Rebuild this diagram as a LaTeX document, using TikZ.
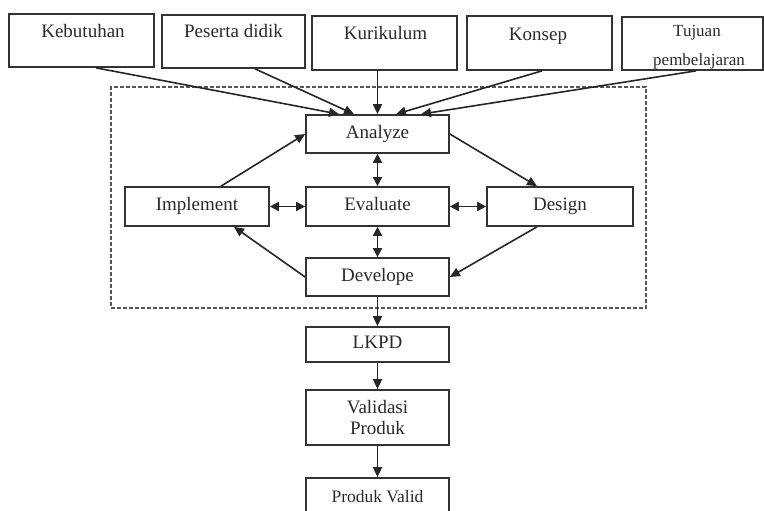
\documentclass[tikz,border=0pt]{standalone}
\usepackage{fontspec}
\setmainfont{Liberation Serif}
\usetikzlibrary{arrows.meta}
\definecolor{boxc}{HTML}{333333}
\definecolor{txtc}{HTML}{2A2A2A}
\definecolor{dashc}{HTML}{555555}
\begin{document}
\begin{tikzpicture}[x=1pt,y=-1pt,
  box/.style={draw=boxc, line width=1.7pt, fill=white, inner sep=0pt},
  lbl/.style={font=\fontsize{19}{22}\selectfont, text=txtc, inner sep=0pt, text height=12.5pt, text depth=4pt},
  slbl/.style={font=\fontsize{17}{20}\selectfont, text=txtc, inner sep=0pt},
  arr/.style={line width=1.6pt, draw=black!85, -{Triangle[length=10pt,width=9pt]}},
  darr/.style={line width=1.6pt, draw=black!85, {Triangle[length=9pt,width=9pt]}-{Triangle[length=9pt,width=9pt]}},
  dashbox/.style={draw=dashc, line width=2pt, dash pattern=on 4pt off 2pt, inner sep=0pt}
]
\useasboundingbox (0,0) rectangle (764,511);
\clip (0,0) rectangle (764,511);

% dashed frame
\node[dashbox, minimum width=535pt, minimum height=221pt] (frame) at (378.5,197.5) {};

% top boxes
\node[box, minimum width=145pt, minimum height=53pt] (keb) at (81.5,40.5) {};
\node[lbl] (tkeb) at (83,33) {Kebutuhan};
\node[box, minimum width=143pt, minimum height=53pt] (pes) at (233.5,41.5) {};
\node[lbl] (tpes) at (233.5,33) {Peserta didik};
\node[box, minimum width=145pt, minimum height=54pt] (kur) at (384.5,43) {};
\node[lbl] (tkur) at (385.5,35) {Kurikulum};
\node[box, minimum width=145pt, minimum height=54pt] (kon) at (539.5,43) {};
\node[lbl] (tkon) at (538,36) {Konsep};
\node[box, minimum width=141pt, minimum height=53pt] (tuj) at (692.5,43.5) {};
\node[slbl] (ttuj1) at (697,33) {Tujuan};
\node[slbl] (ttuj2) at (699,61) {pembelajaran};

% core boxes
\node[box, minimum width=143pt, minimum height=38pt] (ana) at (377.5,134) {};
\node[lbl] at (ana) {Analyze};
\node[box, minimum width=144pt, minimum height=39pt] (imp) at (197,206.5) {};
\node[lbl] at (imp) {Implement};
\node[box, minimum width=143pt, minimum height=39pt] (eva) at (377.5,206.5) {};
\node[lbl] at (eva) {Evaluate};
\node[box, minimum width=146pt, minimum height=39pt] (des) at (560,206.5) {};
\node[lbl] at (des) {Design};
\node[box, minimum width=143pt, minimum height=38pt] (dev) at (377.5,277) {};
\node[lbl] at (dev) {Develope};

% bottom boxes
\node[box, minimum width=143pt, minimum height=35pt] (lkpd) at (377.5,344.5) {};
\node[lbl] at (lkpd) {LKPD};
\node[box, minimum width=143pt, minimum height=55pt] (val) at (377.5,417.5) {};
\node[font=\fontsize{19}{21}\selectfont, text=txtc, inner sep=0pt, align=center] at (val) {Validasi\\Produk};
\node[box, minimum width=143pt, minimum height=50pt] (pv) at (377.5,503) {};
\node[font=\fontsize{17.5}{20}\selectfont, text=txtc, inner sep=0pt] at (377.5,497) {Produk Valid};

% inputs to Analyze
\draw[arr] ([xshift=14.5pt]keb.south) -- ([xshift=-38.5pt]ana.north);
\draw[arr] ([xshift=21.5pt]pes.south) -- ([xshift=-23.5pt]ana.north);
\draw[arr] (kur.south -| ana.north) -- (ana.north);
\draw[arr] ([xshift=2.5pt]kon.south) -- ([xshift=18.5pt]ana.north);
\draw[arr] ([xshift=3.5pt]tuj.south) -- ([xshift=43.5pt]ana.north);

% cycle
\draw[arr] ([xshift=24pt]imp.north) -- (ana.west);
\draw[arr] (ana.east) -- ([xshift=-23pt]des.north);
\draw[arr] ([xshift=-23pt]des.south) -- (dev.east);
\draw[arr] (dev.west) -- ([xshift=37pt]imp.south);

\draw[darr] (ana.south) -- (eva.north);
\draw[darr] (eva.south) -- (dev.north);
\draw[darr] (imp.east) -- (eva.west);
\draw[darr] (eva.east) -- (des.west);

% output chain
\draw[arr] (dev.south) -- (lkpd.north);
\draw[arr] (lkpd.south) -- (val.north);
\draw[arr] (val.south) -- (pv.north);
\end{tikzpicture}
\end{document}
